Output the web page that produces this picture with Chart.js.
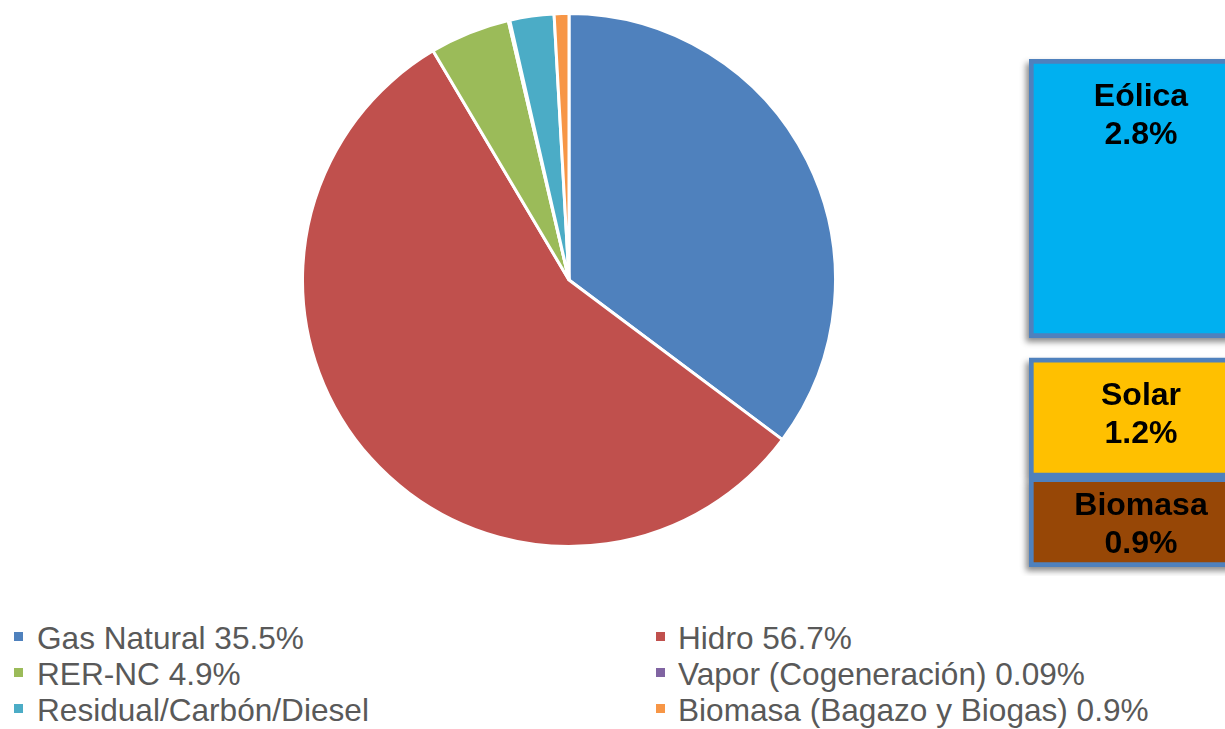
<!DOCTYPE html>
<html>
<head>
<meta charset="utf-8">
<script src="https://cdn.jsdelivr.net/npm/chart.js@4/dist/chart.umd.min.js"></script>
<style>
  html, body { margin:0; padding:0; background:#fff; overflow:hidden; width:1225px; height:729px; }
  #wrap { position:relative; width:1225px; height:729px; font-family:"Liberation Sans", Arial, sans-serif; }
  #pieBox { position:absolute; left:301px; top:12px; width:536px; height:536px; }
  #boxBox { position:absolute; left:1019px; top:54px; width:240px; height:522px; }
  #legend { position:absolute; left:0; top:0; }
  .item { position:absolute; font-size:31.6px; line-height:36px; color:#595959; white-space:nowrap; }
  .mark { position:absolute; width:9px; height:9px; }
</style>
</head>
<body>
<div id="wrap">
  <div id="pieBox"><canvas id="pie"></canvas></div>
  <div id="boxBox"><canvas id="boxes"></canvas></div>
  <div id="legend"></div>
</div>
<script>
// ===== Data =====
const SOURCES = ["Gas Natural","Hidro","RER-NC","Vapor (Cogeneración)","Residual/Carbón/Diesel","Biomasa (Bagazo y Biogas)"];
const SHARES  = [35.5, 56.7, 4.9, 0.09, 2.7, 0.9];
const LEGEND_TEXT = ["Gas Natural 35.5%","Hidro 56.7%","RER-NC 4.9%","Vapor (Cogeneración) 0.09%",
                     "Residual/Carbón/Diesel","Biomasa (Bagazo y Biogas) 0.9%"];
const COLORS  = ["#4F81BD","#C0504D","#9BBB59","#8064A2","#4BACC6","#F79646"];

// RER-NC breakdown (top to bottom)
const RER_LABELS = ["Eólica","Solar","Biomasa"];
const RER_VALUES = [2.8, 1.2, 0.9];
const RER_COLORS = ["#00B0F0","#FFC000","#974706"];

// ===== Pie =====
new Chart(document.getElementById('pie'), {
  type:'pie',
  data:{ labels:SOURCES, datasets:[{ data:SHARES, backgroundColor:COLORS, borderColor:'#fff', borderWidth:3 }]},
  options:{
    responsive:true, maintainAspectRatio:false, animation:false,
    layout:{ padding:0 },
    plugins:{ legend:{ display:false }, tooltip:{ enabled:false } }
  }
});

// ===== Breakdown boxes (floating bars stacked bottom-up, gap above Solar) =====
const GAP = 0.2;
const order = RER_LABELS.map((_,i)=>i).reverse();   // bottom first: Biomasa, Solar, Eólica
let acc = 0;
const ranges = {};
order.forEach(i=>{
  if (RER_LABELS[i]==='Eólica') acc += GAP;
  ranges[i] = [acc, acc + RER_VALUES[i]];
  acc += RER_VALUES[i];
});
const boxDatasets = order.map(i=>({
  label: RER_LABELS[i], data:[ranges[i]], grouped:false,
  backgroundColor: RER_COLORS[i], borderColor:'#4F81BD', borderWidth:5, borderSkipped:false,
  barPercentage:1, categoryPercentage:1
}));

const boxPlugin = {
  id:'boxDeco',
  beforeDatasetsDraw(chart){
    const ctx = chart.ctx;
    ctx.save();
    ctx.shadowColor = 'rgba(0,0,0,0.45)';
    ctx.shadowBlur = 6; ctx.shadowOffsetX = -3; ctx.shadowOffsetY = 4;
    ctx.fillStyle = '#fff';
    chart.data.datasets.forEach((ds,di)=>{
      const el = chart.getDatasetMeta(di).data[0];
      const top = Math.min(el.y, el.base), h = Math.abs(el.base - el.y);
      ctx.fillRect(el.x - el.width/2, top, el.width, h);
    });
    ctx.restore();
  },
  afterDatasetsDraw(chart){
    const ctx = chart.ctx;
    ctx.save();
    ctx.fillStyle = '#000';
    ctx.font = 'bold 32px "Liberation Sans", Arial, sans-serif';
    ctx.textAlign = 'center'; ctx.textBaseline = 'alphabetic';
    chart.data.datasets.forEach((ds,di)=>{
      const el = chart.getDatasetMeta(di).data[0];
      const top = Math.min(el.y, el.base), h = Math.abs(el.base - el.y);
      const i = RER_LABELS.indexOf(ds.label);
      const first = top + Math.min(47, (h - 60) / 2 + 23);
      ctx.fillText(ds.label, el.x - 3, first);
      ctx.fillText(RER_VALUES[i].toFixed(1) + '%', el.x - 3, first + 38);
    });
    ctx.restore();
  }
};

new Chart(document.getElementById('boxes'), {
  type:'bar',
  data:{ labels:['RER-NC'], datasets:boxDatasets },
  options:{
    responsive:true, maintainAspectRatio:false, animation:false,
    layout:{ padding:{ left:10, top:5, bottom:9, right:0 } },
    scales:{
      x:{ display:false },
      y:{ display:false, min:0, max:acc }
    },
    plugins:{ legend:{ display:false }, tooltip:{ enabled:false } }
  },
  plugins:[boxPlugin]
});

// ===== Legend (two columns, row-major like the original) =====
const lg = document.getElementById('legend');
LEGEND_TEXT.forEach((t,i)=>{
  const col = i % 2, row = Math.floor(i / 2);
  const mx = col ? 656 : 14, tx = col ? 678 : 37;
  const top = 620 + row * 36;
  const m = document.createElement('div');
  m.className = 'mark'; m.style.background = COLORS[i];
  m.style.left = mx + 'px'; m.style.top = (top + 12) + 'px';
  const s = document.createElement('div');
  s.className = 'item'; s.textContent = t;
  s.style.left = tx + 'px'; s.style.top = top + 'px';
  lg.appendChild(m); lg.appendChild(s);
});
</script>
</body>
</html>
